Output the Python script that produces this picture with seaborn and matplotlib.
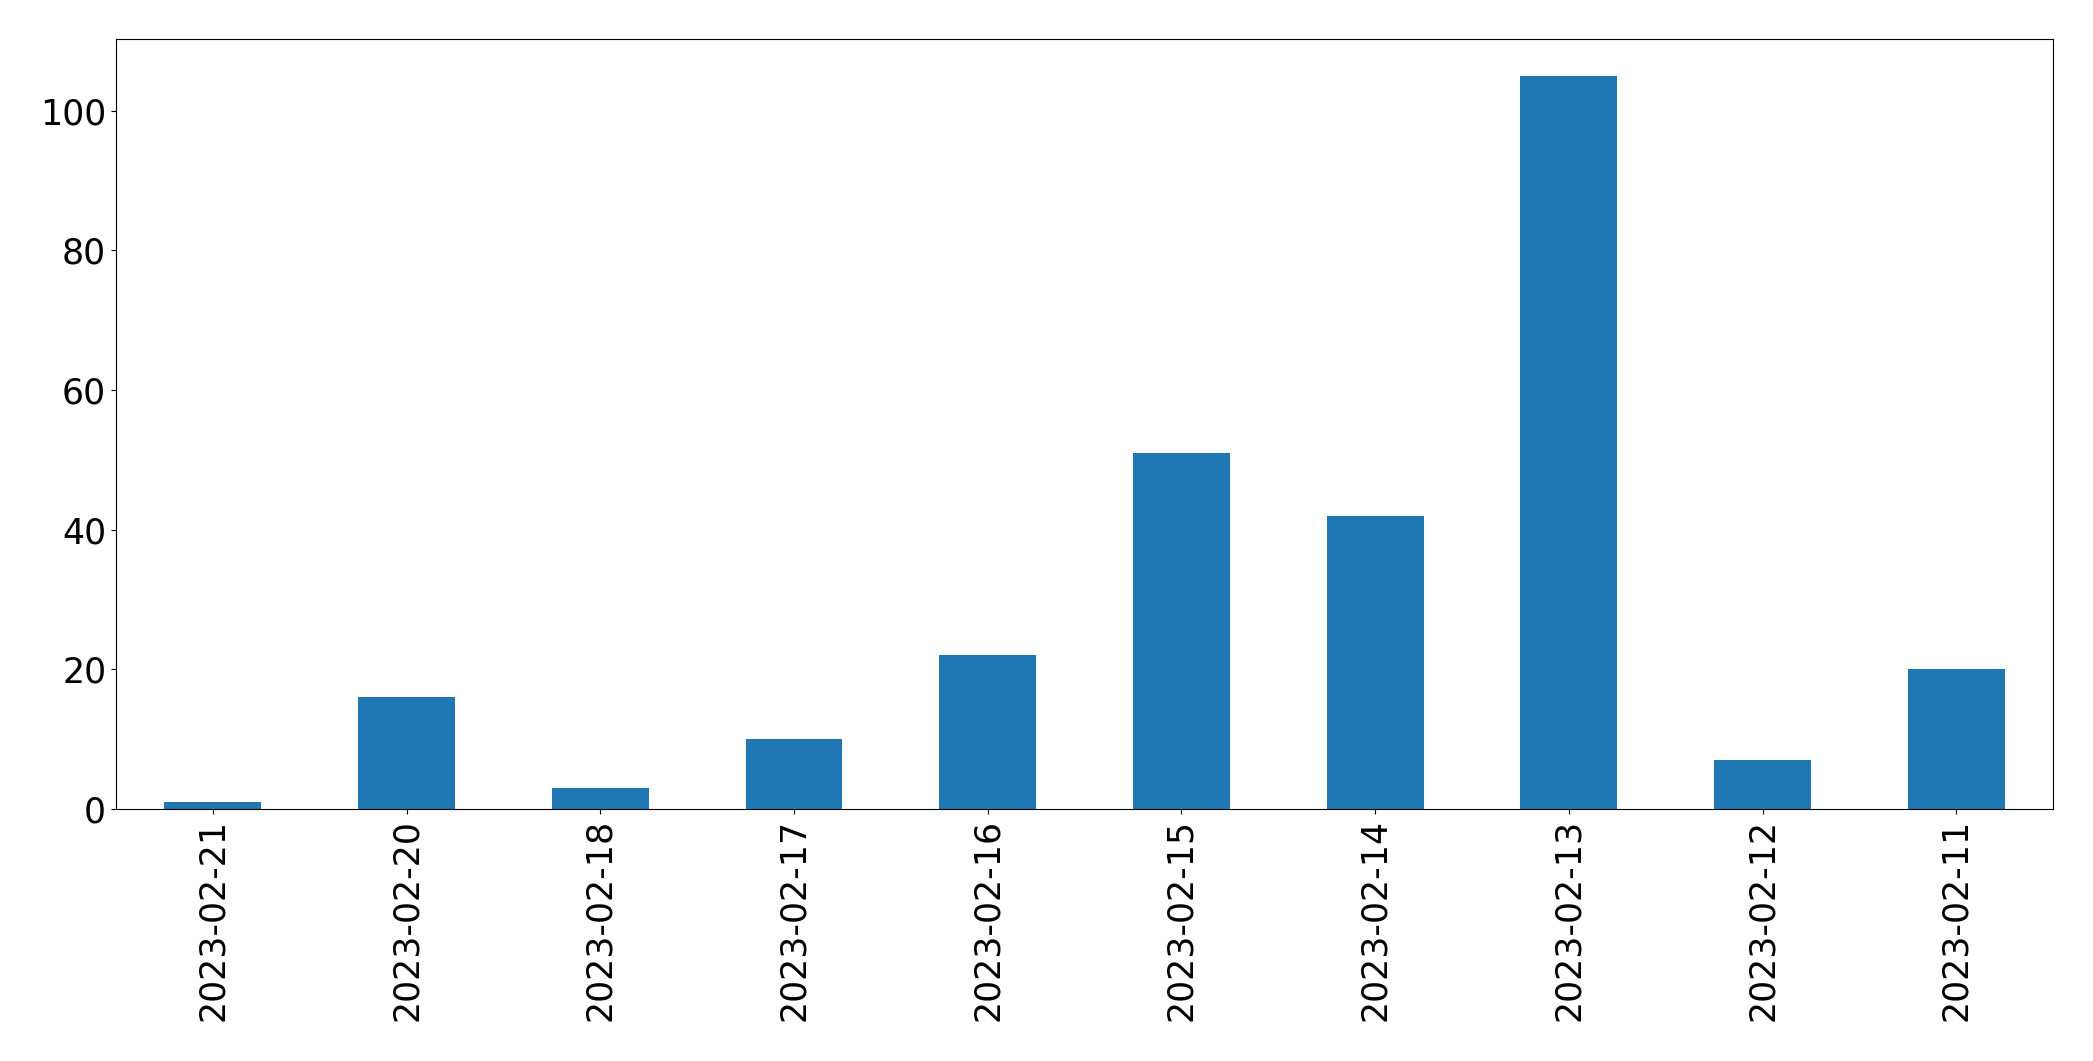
import matplotlib
matplotlib.use("Agg")
import matplotlib.pyplot as plt
import seaborn as sns
import pandas as pd

# daily counts, in the order they are shown
dates = ["2023-02-21", "2023-02-20", "2023-02-18", "2023-02-17", "2023-02-16",
         "2023-02-15", "2023-02-14", "2023-02-13", "2023-02-12", "2023-02-11"]
counts = [1, 16, 3, 10, 22, 51, 42, 105, 7, 20]

df = pd.DataFrame({"date": dates, "count": counts})

fig = plt.figure(figsize=(20.93, 10.61), dpi=100)
ax = fig.add_axes([0.0554, 0.2375, 0.9256, 0.7257])

sns.barplot(data=df, x="date", y="count", order=dates, color="#1f77b4",
            width=0.5, saturation=1, linewidth=0, ax=ax)

ax.set_xlabel("")
ax.set_ylabel("")
ax.set_xlim(-0.5, len(dates) - 0.5)
ax.set_ylim(0, max(counts) * 1.05)
ax.tick_params(axis="x", labelsize=25, rotation=90)
ax.tick_params(axis="y", labelsize=25)
for s in ax.spines.values():
    s.set_edgecolor("black")

fig.savefig("out.png", dpi=100)
